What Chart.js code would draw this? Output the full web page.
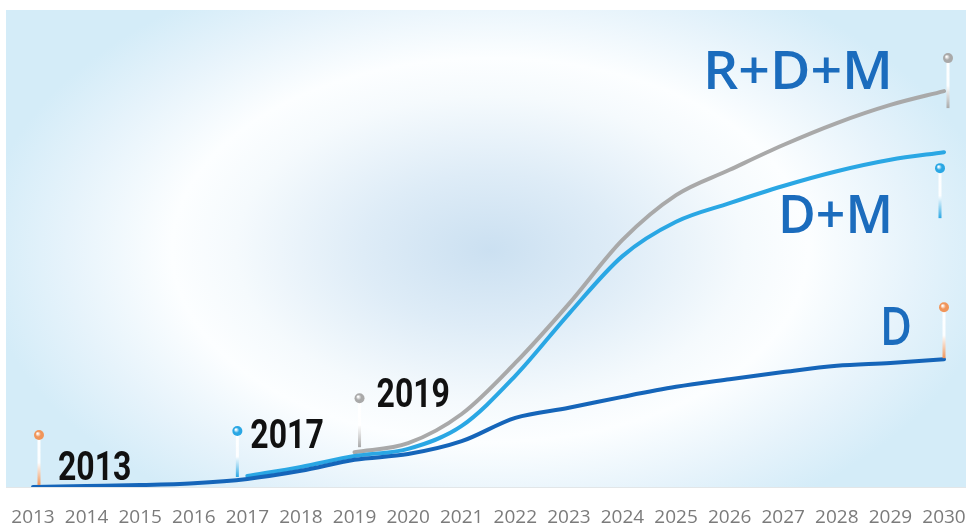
<!DOCTYPE html>
<html>
<head>
<meta charset="utf-8">
<script src="https://cdn.jsdelivr.net/npm/chart.js@4.4.1/dist/chart.umd.min.js"></script>
<style>
  html, body { margin: 0; padding: 0; background: #fff; }
  #wrap { position: relative; width: 966px; height: 526px; }
  #bg {
    position: absolute; left: 6px; top: 10px; width: 960px; height: 477px;
    border-bottom: 1px solid #e2e6e8;
    background: radial-gradient(ellipse 530px 320px at 484px 240px,
      #cbe0f1 0%, #deecf7 24%, #f5fafd 48%, #fcfeff 60%, #e6f3fb 80%, #d4ecf8 96%);
  }
  #chart { position: absolute; left: 0; top: 0; }
</style>
</head>
<body>
<div id="wrap">
  <div id="bg"></div>
  <canvas id="chart" width="966" height="526"></canvas>
</div>
<script>
const years = ["2013", "2014", "2015", "2016", "2017", "2018", "2019", "2020", "2021",
               "2022", "2023", "2024", "2025", "2026", "2027", "2028", "2029", "2030"];

// index values, 2013 baseline = 0
const dValues =   [0, 0.2, 0.4, 0.8, 1.7, 3.4, 5.7, 6.9, 9.6, 14.5, 16.6, 18.9, 21.0, 22.6, 24.1, 25.4, 26.0, 26.8];
const dmValues =  [null, null, null, null, 2.3, 4.2, 6.5, 8.0, 12.8, 23.3, 36.3, 48.4, 55.6, 59.5, 63.1, 66.2, 68.6, 70.2];
const rdmValues = [null, null, null, null, null, null, 7.3, 9.2, 15.3, 26.0, 38.4, 51.8, 61.2, 66.5, 71.7, 76.3, 80.1, 83.0];

const seriesNames = ["D", "D+M", "R+D+M"];
const startLabels = ["2013", "2017", "2019"];

const orange = "#f0955a";
const sky = "#2aa7e4";
const grey = "#a9a9a9";

// pins: dataset, point index, offsets from the point
const pins = [
    { ds: 0, idx: 0,  dx: 6,  top: -52, bottom: -2, color: orange },
    { ds: 1, idx: 4,  dx: -10, top: -45, bottom: 1, color: sky },
    { ds: 2, idx: 6,  dx: 5,  top: -54, bottom: -5, color: grey },
    { ds: 2, idx: 17, dx: 4,  top: -33, bottom: 17, color: grey },
    { ds: 1, idx: 17, dx: -4, top: 16,  bottom: 66, color: sky },
    { ds: 0, idx: 17, dx: 0,  top: -52, bottom: -1, color: orange },
];

const startText = [
    { ds: 0, idx: 0, dx: 25, dy: -7 },
    { ds: 1, idx: 4, dx: 3,  dy: -28 },
    { ds: 2, idx: 6, dx: 22, dy: -45 },
];

const endText = [
    { ds: 2, dx: -51, dy: -2,  width: 190 },
    { ds: 1, dx: -51, dy: 81,  width: 115 },
    { ds: 0, dx: -32, dy: -14, width: 32 },
];

function drawPin(ctx, x, yTop, yBottom, color) {
    const g = ctx.createLinearGradient(0, yTop, 0, yBottom);
    g.addColorStop(0, "rgba(255,255,255,0.95)");
    g.addColorStop(0.55, "rgba(255,255,255,0.9)");
    g.addColorStop(1, color);
    ctx.fillStyle = g;
    ctx.fillRect(x - 1.5, yTop, 3, yBottom - yTop);

    const r = ctx.createRadialGradient(x - 1.5, yTop - 1.5, 0.5, x, yTop, 5.5);
    r.addColorStop(0, "#ffffff");
    r.addColorStop(0.45, color);
    r.addColorStop(1, color);
    ctx.fillStyle = r;
    ctx.beginPath();
    ctx.arc(x, yTop, 5, 0, Math.PI * 2);
    ctx.fill();
}

const decorations = {
    id: "decorations",
    afterDatasetsDraw(chart) {
        const ctx = chart.ctx;
        ctx.save();

        pins.forEach((p) => {
            const pt = chart.getDatasetMeta(p.ds).data[p.idx];
            drawPin(ctx, pt.x + p.dx, pt.y + p.top, pt.y + p.bottom, p.color);
        });

        // start years, condensed black figures
        ctx.fillStyle = "#111";
        ctx.textBaseline = "alphabetic";
        ctx.textAlign = "left";
        ctx.font = "bold 40px Roboto";
        startText.forEach((t, i) => {
            const pt = chart.getDatasetMeta(t.ds).data[t.idx];
            ctx.save();
            ctx.translate(pt.x + t.dx, pt.y + t.dy);
            ctx.scale(0.8, 1);
            ctx.fillText(startLabels[i], 0, 0);
            ctx.restore();
        });

        // series names at the right end
        ctx.fillStyle = "#1b6cbd";
        ctx.font = "600 52px 'Open Sans'";
        endText.forEach((t) => {
            const meta = chart.getDatasetMeta(t.ds);
            const pt = meta.data[meta.data.length - 1];
            const name = seriesNames[t.ds];
            const w = ctx.measureText(name).width;
            ctx.save();
            ctx.translate(pt.x + t.dx, pt.y + t.dy);
            ctx.scale(t.width / w, 1);
            ctx.textAlign = "right";
            ctx.fillText(name, 0, 0);
            ctx.restore();
        });

        ctx.restore();
    }
};

const ctx = document.getElementById("chart").getContext("2d");

new Chart(ctx, {
    type: "line",
    data: {
        labels: years,
        datasets: [
            { label: seriesNames[0], data: dValues, borderColor: "#1565b9" },
            { label: seriesNames[1], data: dmValues, borderColor: sky },
            { label: seriesNames[2], data: rdmValues, borderColor: grey },
        ],
    },
    options: {
        responsive: false,
        animation: false,
        events: [],
        layout: { padding: { left: 33, right: 22, top: 10, bottom: 0 } },
        elements: {
            line: { borderWidth: 4, cubicInterpolationMode: "monotone", borderCapStyle: "round" },
            point: { radius: 0 },
        },
        plugins: {
            legend: { display: false },
            tooltip: { enabled: false },
        },
        scales: {
            x: {
                offset: false,
                grid: { display: false, drawTicks: false },
                border: { display: false },
                ticks: {
                    color: "#7b7b7b",
                    font: { family: "'Open Sans'", size: 19 },
                    padding: 19,
                    maxRotation: 0,
                    autoSkip: false,
                },
                afterFit(scale) {
                    scale.height = 39;
                    // edge labels fit inside the layout padding
                    scale.paddingLeft = 0;
                    scale.paddingRight = 0;
                },
            },
            y: {
                display: false,
                min: 0,
                max: 100,
            },
        },
    },
    plugins: [decorations],
});
</script>
</body>
</html>
